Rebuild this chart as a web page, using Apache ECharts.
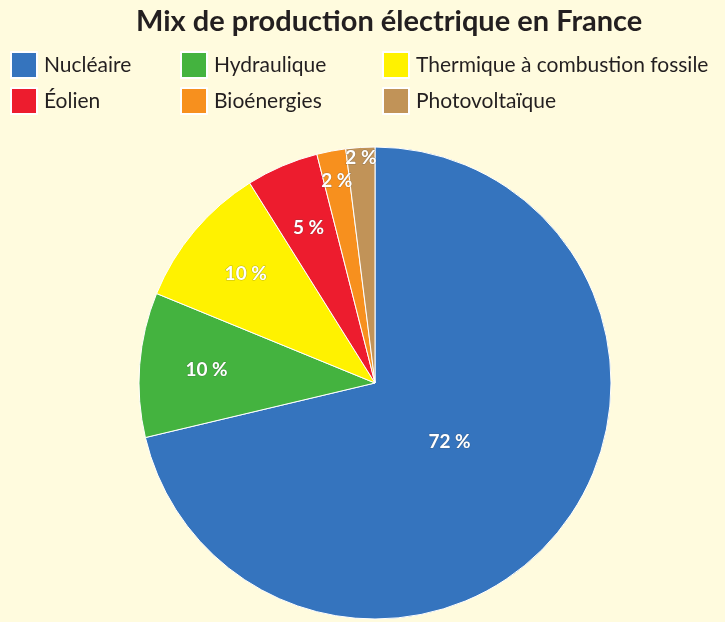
<!DOCTYPE html>
<html>
<head>
<meta charset="utf-8">
<script src="https://cdn.jsdelivr.net/npm/echarts@6/dist/echarts.min.js"></script>
<style>
html,body{margin:0;padding:0;background:#FFFBDE;}
#chart{width:725px;height:622px;}
</style>
</head>
<body>
<div id="chart"></div>
<script>
var title = 'Mix de production électrique en France';
var categories = ['Nucléaire', 'Hydraulique', 'Thermique à combustion fossile', 'Éolien', 'Bioénergies', 'Photovoltaïque'];
var values = [72, 10, 10, 5, 2, 2];
var colors = ['#3574BE', '#44B33F', '#FFF200', '#ED1C2E', '#F7901E', '#C19358'];
// label ring groups: which items are labelled at which depth
var labelGroups = [
  { items: ['Nucléaire'], radius: [0, 184] },
  { items: ['Hydraulique', 'Thermique à combustion fossile', 'Éolien'], radius: [96, 236] },
  { items: ['Bioénergies'], radius: [170, 236] },
  { items: ['Photovoltaïque'], radius: [210, 236] }
];
var legendColumns = [
  ['Nucléaire', 'Éolien'],
  ['Hydraulique', 'Bioénergies'],
  ['Thermique à combustion fossile', 'Photovoltaïque']
];
var legendLefts = [10, 180, 382];

var center = [375, 383];
var R = 236;

var mainData = categories.map(function (c, i) {
  return { name: c, value: values[i], itemStyle: { color: colors[i] } };
});

var series = [{
  type: 'pie',
  center: center,
  radius: [0, R],
  startAngle: 90,
  clockwise: true,
  avoidLabelOverlap: false,
  silent: true,
  label: { show: false },
  labelLine: { show: false },
  itemStyle: { borderColor: '#ffffff', borderWidth: 1 },
  emphasis: { disabled: true },
  data: mainData
}];

labelGroups.forEach(function (g) {
  series.push({
    type: 'pie',
    center: center,
    radius: g.radius,
    startAngle: 90,
    clockwise: true,
    avoidLabelOverlap: false,
    silent: true,
    z: 5,
    itemStyle: { color: 'rgba(0,0,0,0)', borderWidth: 0 },
    labelLine: { show: false },
    emphasis: { disabled: true },
    data: categories.map(function (c, i) {
      return {
        name: c,
        value: values[i],
        label: {
          show: g.items.indexOf(c) >= 0,
          position: 'inside',
          formatter: values[i] + ' %',
          color: '#ffffff',
          fontFamily: 'Lato',
          fontWeight: 'bold',
          fontSize: 19,
          textBorderColor: 'rgba(70,70,70,0.35)',
          textBorderWidth: 1
        }
      };
    })
  });
});

var legends = legendColumns.map(function (col, k) {
  return {
    orient: 'vertical',
    left: legendLefts[k],
    top: 51,
    padding: 0,
    itemWidth: 26,
    itemHeight: 26,
    itemGap: 8,
    icon: 'rect',
    selectedMode: false,
    data: col,
    textStyle: { color: '#231F20', fontFamily: 'Lato', fontSize: 21, padding: [0, 0, 0, 2] }
  };
});

var chart = echarts.init(document.getElementById('chart'), null, { renderer: 'canvas' });
chart.setOption({
  backgroundColor: '#FFFBDE',
  animation: false,
  title: {
    text: title,
    left: 131,
    top: 2,
    textStyle: { color: '#231F20', fontFamily: 'Lato', fontWeight: 'bold', fontSize: 29 }
  },
  legend: legends,
  series: series
});
</script>
</body>
</html>
